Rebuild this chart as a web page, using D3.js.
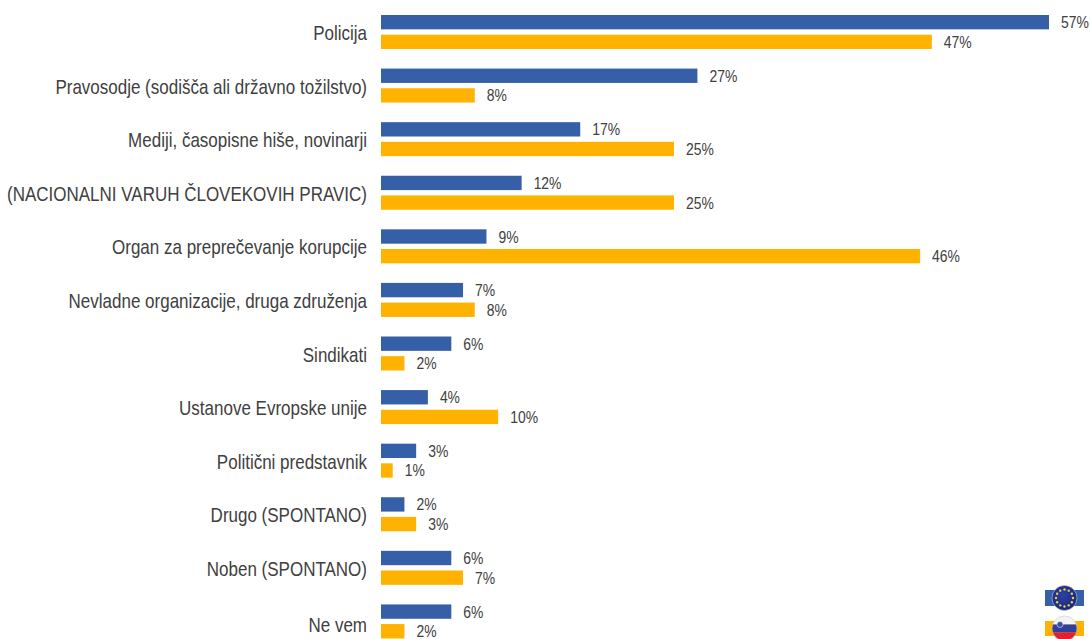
<!DOCTYPE html>
<html>
<head>
<meta charset="utf-8">
<script src="https://cdn.jsdelivr.net/npm/d3@7"></script>
<style>
body { margin: 0; background: #fff; }
text { font-family: "Liberation Sans", Arial, sans-serif; fill: #404040; }
</style>
</head>
<body>
<div id="plot"></div>
<script>
const categories = [
    "Policija",
    "Pravosodje (sodišča ali državno tožilstvo)",
    "Mediji, časopisne hiše, novinarji",
    "(NACIONALNI VARUH ČLOVEKOVIH PRAVIC)",
    "Organ za preprečevanje korupcije",
    "Nevladne organizacije, druga združenja",
    "Sindikati",
    "Ustanove Evropske unije",
    "Politični predstavnik",
    "Drugo (SPONTANO)",
    "Noben (SPONTANO)",
    "Ne vem"
];
const euValues = [57, 27, 17, 12, 9, 7, 6, 4, 3, 2, 6, 6];
const siValues = [47, 8, 25, 25, 46, 8, 2, 10, 1, 3, 7, 2];
const seriesNames = ["eu", "si"];
const seriesColors = ["#3560a8", "#ffb200"];

const width = 1090, height = 639;
const svg = d3.select("#plot").append("svg")
    .attr("width", width)
    .attr("height", height)
    .style("display", "block");

const x = d3.scaleLinear().domain([0, 57]).range([381, 1049]);
const y = d3.scaleBand().domain(categories).range([5, 648]).paddingInner(0).paddingOuter(0);
const inner = d3.scaleBand().domain(seriesNames).range([10, 44]).paddingInner(0.27);
const color = d3.scaleOrdinal(seriesNames, seriesColors);

const rows = svg.selectAll("g.row")
    .data(categories)
    .enter().append("g")
    .attr("class", "row")
    .attr("transform", d => `translate(0,${y(d)})`);

// category labels are a bit condensed in the original, last one sits lower
rows.append("text")
    .attr("text-anchor", "end")
    .attr("transform", (d, i) => `translate(367,${i === categories.length - 1 ? 38 : 35}) scale(0.85,1)`)
    .style("font-size", "20px")
    .text(d => d);

seriesNames.forEach((name, s) => {
    const values = s === 0 ? euValues : siValues;
    rows.append("rect")
        .attr("x", x(0))
        .attr("y", inner(name))
        .attr("width", (d, i) => x(values[i]) - x(0))
        .attr("height", inner.bandwidth())
        .attr("fill", color(name));
    rows.append("text")
        .attr("transform", (d, i) => `translate(${x(values[i]) + 12},${inner(name) + inner.bandwidth() / 2 + 6}) scale(0.87,1)`)
        .style("font-size", "16px")
        .text((d, i) => values[i] + "%");
});

// legend flags
const defs = svg.append("defs");
const euGrad = defs.append("radialGradient").attr("id", "euBall").attr("cx", "45%").attr("cy", "40%");
euGrad.append("stop").attr("offset", "0%").attr("stop-color", "#2c42a8");
euGrad.append("stop").attr("offset", "100%").attr("stop-color", "#1c2a80");
defs.append("clipPath").attr("id", "siClip").append("circle").attr("r", 12.5);

const euIcon = svg.append("g").attr("transform", "translate(1064.5,598)");
euIcon.append("rect").attr("x", -19.5).attr("y", -8).attr("width", 39).attr("height", 16).attr("fill", "#3560a8");
euIcon.append("circle").attr("r", 12.5).attr("fill", "url(#euBall)").attr("stroke", "#c8cce0").attr("stroke-width", 0.6);
euIcon.selectAll("circle.star")
    .data(d3.range(12))
    .enter().append("circle")
    .attr("class", "star")
    .attr("r", 1.2)
    .attr("fill", "#e8d040")
    .attr("cx", d => 8.5 * Math.cos(d * Math.PI / 6))
    .attr("cy", d => 8.5 * Math.sin(d * Math.PI / 6));

const siIcon = svg.append("g").attr("transform", "translate(1064.5,628.5)");
siIcon.append("rect").attr("x", -19.5).attr("y", -7.5).attr("width", 39).attr("height", 15).attr("fill", "#ffb200");
const ball = siIcon.append("g").attr("clip-path", "url(#siClip)");
ball.append("rect").attr("x", -13).attr("y", -13).attr("width", 26).attr("height", 9).attr("fill", "#f4f4f6");
ball.append("rect").attr("x", -13).attr("y", -4).attr("width", 26).attr("height", 8).attr("fill", "#2f3f9e");
ball.append("rect").attr("x", -13).attr("y", 4).attr("width", 26).attr("height", 9).attr("fill", "#e02030");
siIcon.append("circle").attr("cx", -4.5).attr("cy", -4).attr("r", 3).attr("fill", "#2f4fa8").attr("stroke", "#e8e8f0").attr("stroke-width", 0.6);
siIcon.append("circle").attr("r", 12.5).attr("fill", "none").attr("stroke", "#c8c8d0").attr("stroke-width", 0.6);
</script>
</body>
</html>
